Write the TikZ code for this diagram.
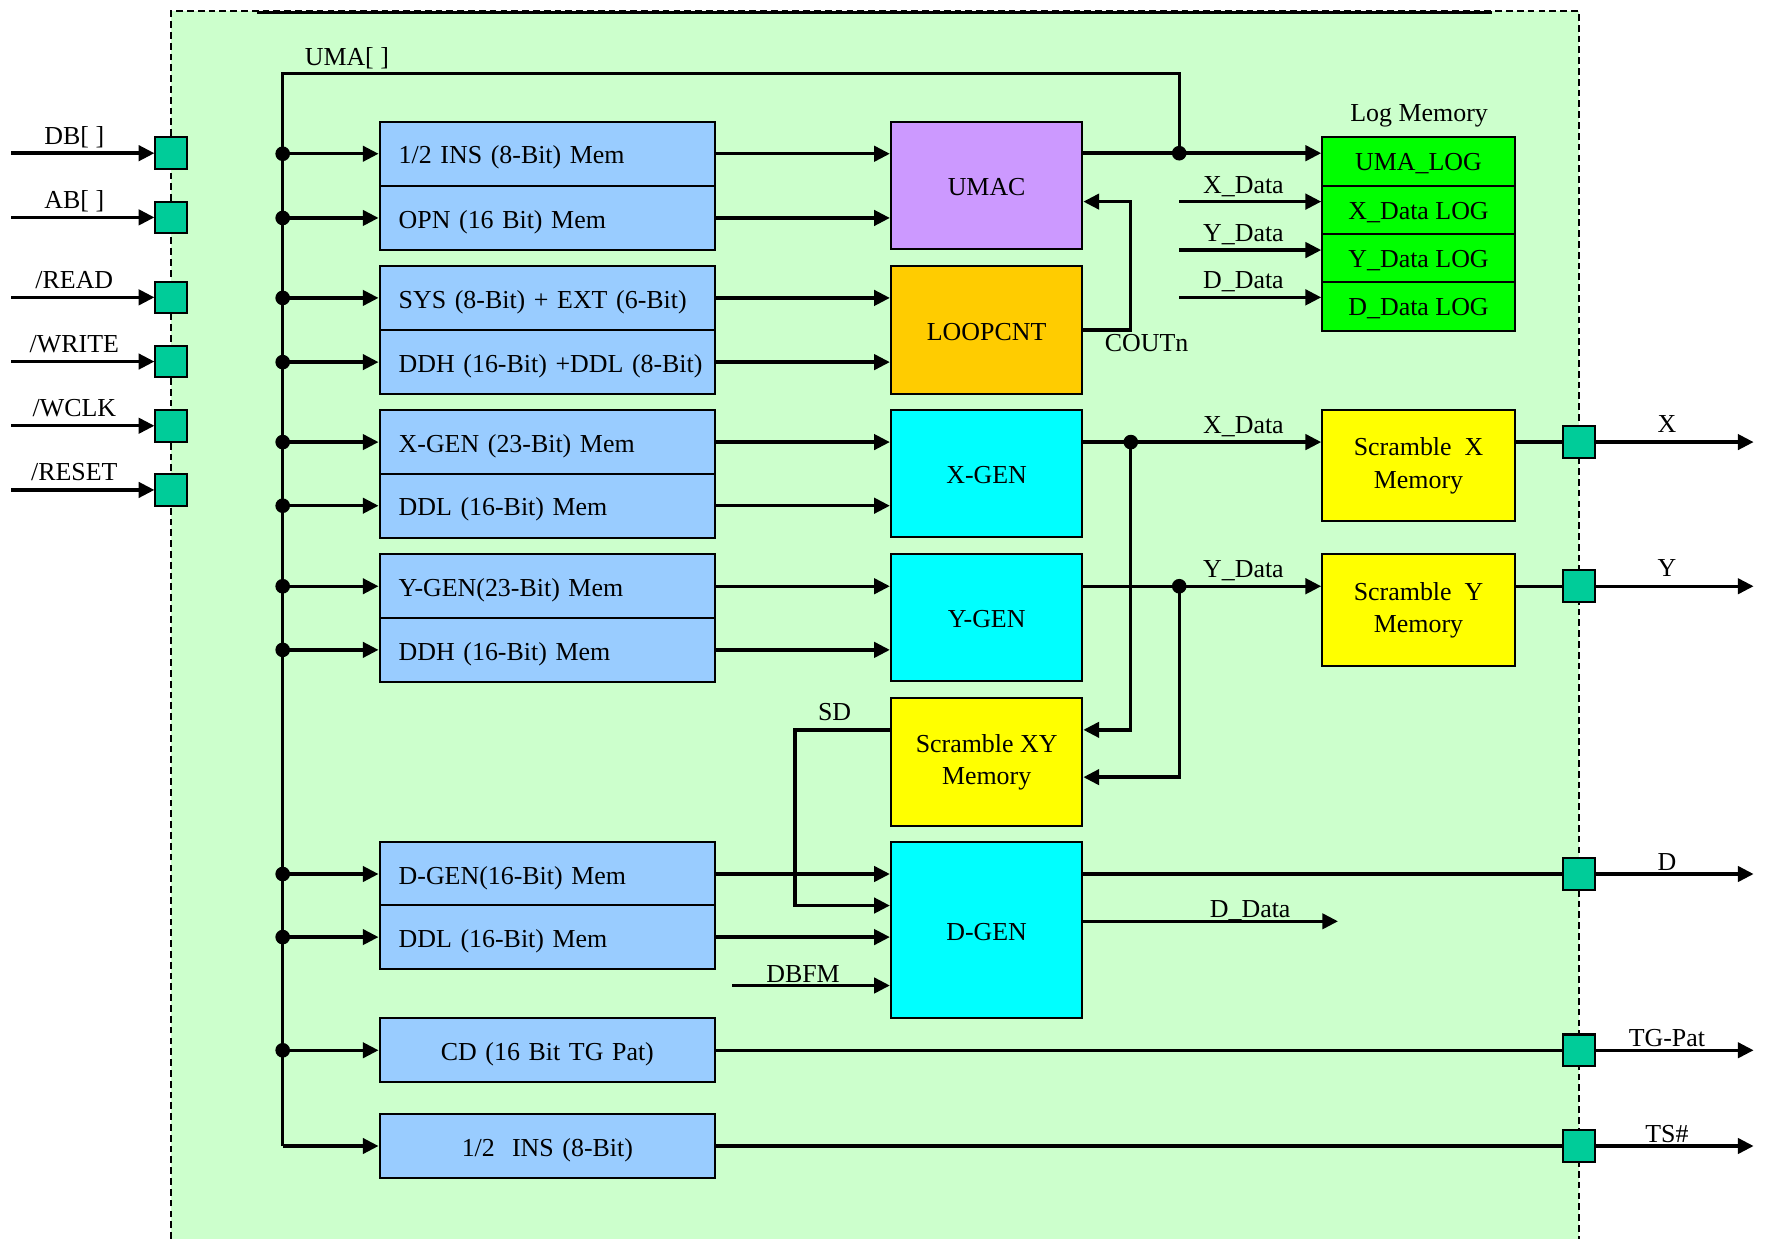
\documentclass[tikz,border=0pt]{standalone}
\usepackage{fontspec}
\setmainfont{Liberation Serif}
\usetikzlibrary{arrows.meta,calc}
\definecolor{bgc}{HTML}{CCFFCC}
\definecolor{portc}{HTML}{00CC99}
\definecolor{memc}{HTML}{99CCFF}
\definecolor{umacc}{HTML}{CC99FF}
\definecolor{loopc}{HTML}{FFCC00}
\definecolor{genc}{HTML}{00FFFF}
\definecolor{scrc}{HTML}{FFFF00}
\definecolor{logc}{HTML}{00FF00}
\newcommand{\twolines}[2]{\raisebox{-1.5pt}{\begin{tabular}{@{}c@{}}#1\\#2\end{tabular}}}
\tikzset{
  ln/.style={line width=1.5pt},
  arr/.style={line width=1.5pt,-{Triangle[length=7pt,width=6.8pt]}},
  port/.style={draw,line width=0.9pt,fill=portc,minimum width=14pt,minimum height=14pt,inner sep=0pt},
  mem/.style={draw,line width=0.9pt,fill=memc,minimum height=28.5pt,inner xsep=8.5pt,inner ysep=0pt,text width=132pt,align=left,text height=10pt,text depth=1pt},
  memcen/.style={mem,align=center},
  gen/.style={draw,line width=0.9pt,minimum width=85pt,minimum height=56.5pt,inner sep=0pt},
  single/.style={text height=10pt,text depth=1pt},
  logbox/.style={draw,line width=0.9pt,fill=logc,minimum width=85.5pt,minimum height=21.5pt,inner sep=0pt,text height=9pt,text depth=1pt},
  lbl/.style={anchor=base,inner sep=0pt},
  dot/.style={circle,fill=black,inner sep=0pt,minimum size=6.5pt},
  border/.style={line width=0.8pt,dash pattern=on 3pt off 1.8pt}
}
\begin{document}
\begin{tikzpicture}[x=0.5pt,y=-0.5pt,font=\fontsize{11.5}{14.5}\selectfont]
\useasboundingbox (0,0) rectangle (1568,1100);
% background region
\fill[bgc] (152,10) rectangle (1402,1100);
\draw[border] (152,1100) -- (152,10) -- (1402,10) -- (1402,1100);
\draw[line width=1.6pt] (228,11) -- (1325,11);

% memory boxes
\node[mem] (ins)  at (486,136.5) {\mbox{1/2 INS (8-Bit) Mem}};
\node[mem] (opn)  at (486,193.5) {\mbox{OPN (16 Bit) Mem}};
\node[mem] (sys)  at (486,264.5) {\mbox{SYS (8-Bit) + EXT (6-Bit)}};
\node[mem] (ddha) at (486,321.5) {\mbox{DDH (16-Bit) +DDL (8-Bit)}};
\node[mem] (xgm)  at (486,392.5) {\mbox{X-GEN (23-Bit) Mem}};
\node[mem] (ddla) at (486,449)   {\mbox{DDL (16-Bit) Mem}};
\node[mem] (ygm)  at (486,520.5) {\mbox{Y-GEN(23-Bit) Mem}};
\node[mem] (ddhb) at (486,577)   {\mbox{DDH (16-Bit) Mem}};
\node[mem] (dgm)  at (486,776)   {\mbox{D-GEN(16-Bit) Mem}};
\node[mem] (ddlb) at (486,832)   {\mbox{DDL (16-Bit) Mem}};
\node[memcen] (cd)   at (486,932.5)  {CD (16 Bit TG Pat)};
\node[memcen] (half) at (486,1017.5) {1/2\ \ INS (8-Bit)};

% generator boxes
\node[gen,single,fill=umacc] (umac) at (876,165)   {UMAC};
\node[gen,single,fill=loopc] (loop) at (876,293)   {LOOPCNT};
\node[gen,single,fill=genc]  (xgen) at (876,420.5) {X-GEN};
\node[gen,single,fill=genc]  (ygen) at (876,548.5) {Y-GEN};
\node[gen,fill=scrc]  (sxy)  at (876,676.5) {\twolines{Scramble XY}{Memory}};
\node[gen,single,fill=genc,minimum height=78pt] (dgen) at (876,826) {D-GEN};

% log memory
\node[lbl] (tlog) at (1260,108) {Log Memory};
\node[logbox] (ul) at (1259.5,143.5) {UMA\_LOG};
\node[logbox] (xl) at (1259.5,186.5) {X\_Data LOG};
\node[logbox] (yl) at (1259.5,229.5) {Y\_Data LOG};
\node[logbox] (dl) at (1259.5,272)   {D\_Data LOG};

% scramble X / Y
\node[gen,fill=scrc,minimum width=85.5pt,minimum height=49.5pt] (sx) at (1259.5,413.5) {\twolines{Scramble\ \ X}{Memory}};
\node[gen,fill=scrc,minimum width=85.5pt,minimum height=49.5pt] (sy) at (1259.5,541.5) {\twolines{Scramble\ \ Y}{Memory}};

% coordinates
\coordinate (si1) at (10,136);
\coordinate (si2) at (10,193);
\coordinate (si3) at (10,264);
\coordinate (si4) at (10,321);
\coordinate (si5) at (10,378);
\coordinate (si6) at (10,435);
\coordinate (jt) at (251,65);
\coordinate (ju) at (1047,65);
\coordinate (ju2) at (1047,136);
\coordinate (j1) at (251,136.5);
\coordinate (j2) at (251,193.5);
\coordinate (j3) at (251,264.5);
\coordinate (j4) at (251,321.5);
\coordinate (j5) at (251,392.5);
\coordinate (j6) at (251,449);
\coordinate (j7) at (251,520.5);
\coordinate (j8) at (251,577);
\coordinate (j9) at (251,776);
\coordinate (j10) at (251,832);
\coordinate (j11) at (251,932.5);
\coordinate (jb) at (251,1017.5);
\coordinate (cf1) at (1004,293);
\coordinate (cf2) at (1004,179);
\coordinate (lx) at (1047,179);
\coordinate (ly) at (1047,222);
\coordinate (ld) at (1047,264);
\coordinate (xj) at (1004,392.5);
\coordinate (xk) at (1004,648);
\coordinate (yj) at (1047,520.5);
\coordinate (yk) at (1047,690);
\coordinate (sd1) at (706,648);
\coordinate (sd2) at (706,804);
\coordinate (db) at (650,875);
\coordinate (dd) at (1188,818);
\coordinate (xo) at (1557,392.5);
\coordinate (yo) at (1557,520.5);
\coordinate (do) at (1557,776);
\coordinate (tgo) at (1557,932.5);
\coordinate (tso) at (1557,1017.5);

% bus
\draw[ln] (jb) -- (jt) -- (ju) -- (ju2);
\draw[arr] (j1) -- (ins.west);
\draw[arr] (j2) -- (opn.west);
\draw[arr] (j3) -- (sys.west);
\draw[arr] (j4) -- (ddha.west);
\draw[arr] (j5) -- (xgm.west);
\draw[arr] (j6) -- (ddla.west);
\draw[arr] (j7) -- (ygm.west);
\draw[arr] (j8) -- (ddhb.west);
\draw[arr] (j9) -- (dgm.west);
\draw[arr] (j10) -- (ddlb.west);
\draw[arr] (j11) -- (cd.west);
\draw[arr] (jb) -- (half.west);

% memory -> generators
\draw[arr] (ins.east) -- (ins.east -| umac.west);
\draw[arr] (opn.east) -- (opn.east -| umac.west);
\draw[arr] (sys.east) -- (sys.east -| loop.west);
\draw[arr] (ddha.east) -- (ddha.east -| loop.west);
\draw[arr] (xgm.east) -- (xgm.east -| xgen.west);
\draw[arr] (ddla.east) -- (ddla.east -| xgen.west);
\draw[arr] (ygm.east) -- (ygm.east -| ygen.west);
\draw[arr] (ddhb.east) -- (ddhb.east -| ygen.west);
\draw[arr] (dgm.east) -- (dgm.east -| dgen.west);
\draw[arr] (ddlb.east) -- (ddlb.east -| dgen.west);

% UMAC / LOOPCNT
\draw[arr] (ju2 -| umac.east) -- (ju2 -| ul.west);
\draw[arr] (loop.east) -- (cf1) -- (cf2) -- (cf2 -| umac.east);
\draw[arr] (lx) -- (lx -| xl.west);
\draw[arr] (ly) -- (ly -| yl.west);
\draw[arr] (ld) -- (ld -| dl.west);

% X / Y generators
\draw[arr] (xj -| xgen.east) -- (xj -| sx.west);
\draw[arr] (xj) -- (xk) -- (xk -| sxy.east);
\draw[arr] (yj -| ygen.east) -- (yj -| sy.west);
\draw[arr] (yj) -- (yk) -- (yk -| sxy.east);

% SD, DBFM, D-GEN outputs
\draw[arr] (sd1 -| sxy.west) -- (sd1) -- (sd2) -- (sd2 -| dgen.west);
\draw[arr] (db) -- (db -| dgen.west);
\draw[arr] (dd -| dgen.east) -- (dd);

% output ports
\node[port] (po1) at (1402,392.5) {};
\node[port] (po2) at (1402,520.5) {};
\node[port] (po3) at (1402,776) {};
\node[port] (po4) at (1402,932.5) {};
\node[port] (po5) at (1402,1017.5) {};
\draw[ln] (xj -| sx.east) -- (po1.west);
\draw[ln] (yj -| sy.east) -- (po2.west);
\draw[ln] (do -| dgen.east) -- (po3.west);
\draw[ln] (cd.east) -- (po4.west);
\draw[ln] (half.east) -- (po5.west);
\draw[arr] (po1.east) -- (xo);
\draw[arr] (po2.east) -- (yo);
\draw[arr] (po3.east) -- (do);
\draw[arr] (po4.east) -- (tgo);
\draw[arr] (po5.east) -- (tso);

% input ports
\node[port] (pi1) at (152,136) {};
\node[port] (pi2) at (152,193) {};
\node[port] (pi3) at (152,264) {};
\node[port] (pi4) at (152,321) {};
\node[port] (pi5) at (152,378) {};
\node[port] (pi6) at (152,435) {};
\draw[arr] (si1) -- (pi1.west);
\draw[arr] (si2) -- (pi2.west);
\draw[arr] (si3) -- (pi3.west);
\draw[arr] (si4) -- (pi4.west);
\draw[arr] (si5) -- (pi5.west);
\draw[arr] (si6) -- (pi6.west);

% junction dots
\foreach \c in {j1,j2,j3,j4,j5,j6,j7,j8,j9,j10,j11,ju2,xj,yj}
  \node[dot] at (\c) {};

% labels
\node[lbl] (tdb) at (66,128) {DB[ ]};
\node[lbl] (tab) at (66,185) {AB[ ]};
\node[lbl] (trd) at (66,256) {/READ};
\node[lbl] (twr) at (66,313) {/WRITE};
\node[lbl] (twc) at (66,370) {/WCLK};
\node[lbl] (trs) at (66,427) {/RESET};
\node[lbl] (tuma) at (308,58) {UMA[ ]};
\node[lbl] (tlx) at (1104,171.5) {X\_Data};
\node[lbl] (tly) at (1104,214.5) {Y\_Data};
\node[lbl] (tld) at (1104,256.5) {D\_Data};
\node[lbl] (tcout) at (1018,312.5) {COUTn};
\node[lbl] (txd) at (1104,384.5) {X\_Data};
\node[lbl] (tyd) at (1104,512.5) {Y\_Data};
\node[lbl] (tx) at (1480,384) {X};
\node[lbl] (ty) at (1480,512) {Y};
\node[lbl] (td) at (1480,772.5) {D};
\node[lbl] (ttg) at (1480,929) {TG-Pat};
\node[lbl] (tts) at (1480,1014) {TS\#};
\node[lbl] (tsd) at (741,640) {SD};
\node[lbl] (tdbfm) at (713,872) {DBFM};
\node[lbl] (tdd) at (1110,815) {D\_Data};
\end{tikzpicture}
\end{document}
